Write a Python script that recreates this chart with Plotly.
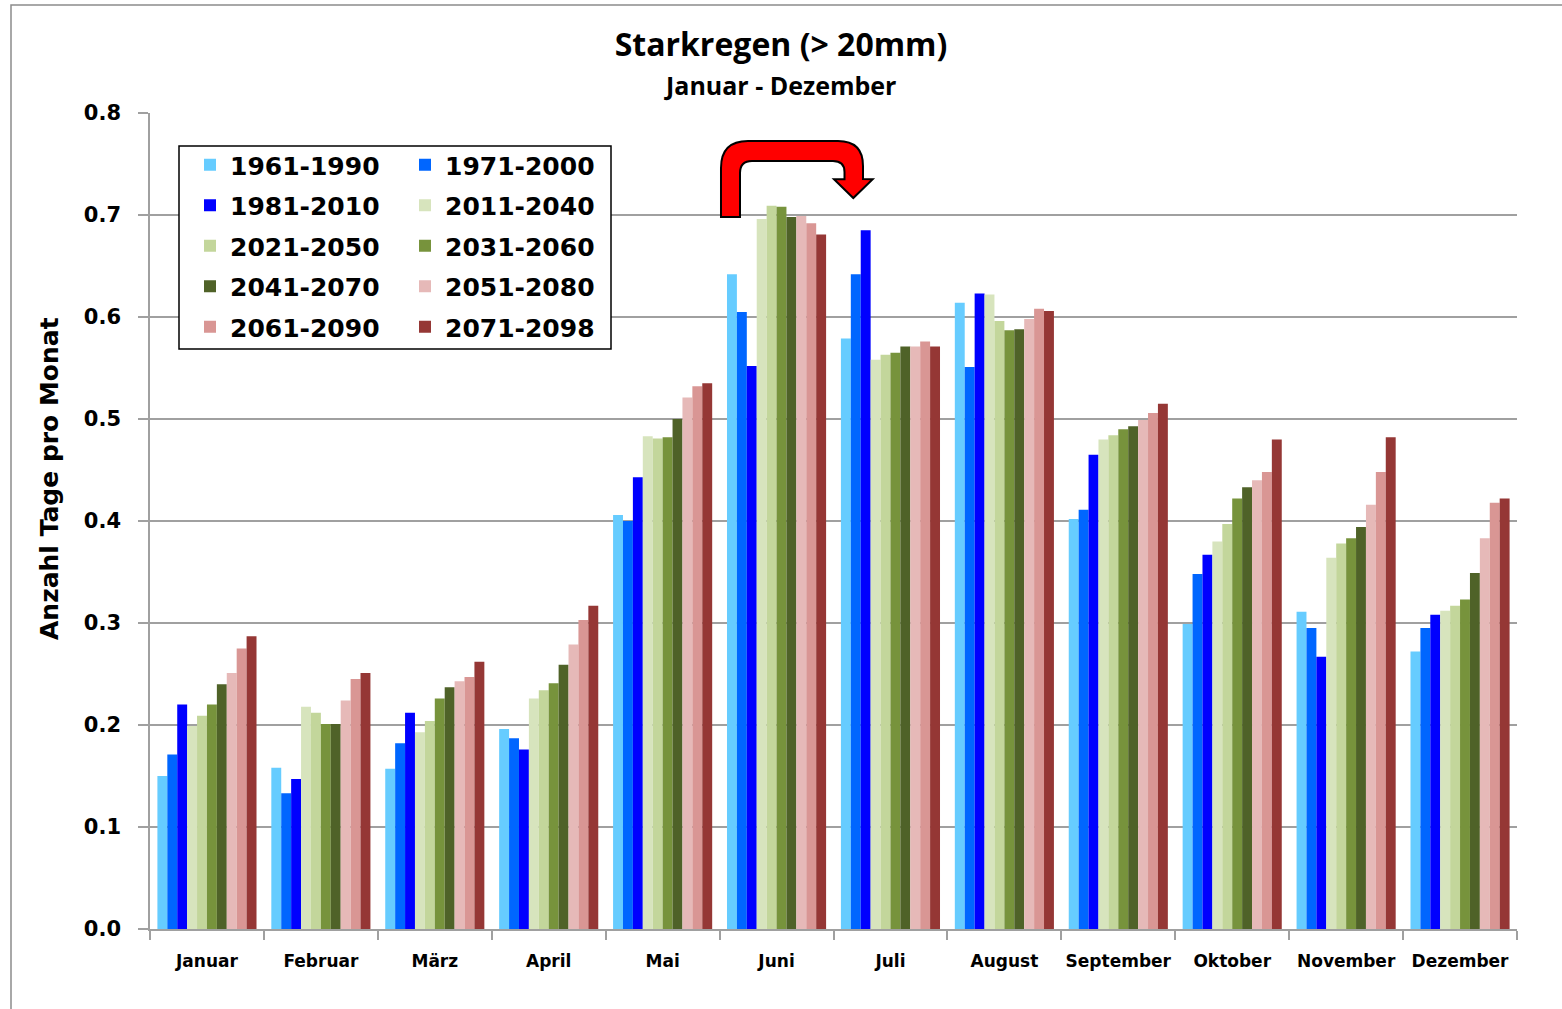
import plotly.graph_objects as go

months = ["Januar", "Februar", "März", "April", "Mai", "Juni", "Juli",
          "August", "September", "Oktober", "November", "Dezember"]

v1961_1990 = [0.150, 0.158, 0.157, 0.196, 0.406, 0.642, 0.579, 0.614, 0.402, 0.299, 0.311, 0.272]
v1971_2000 = [0.171, 0.133, 0.182, 0.187, 0.400, 0.605, 0.642, 0.551, 0.411, 0.348, 0.295, 0.295]
v1981_2010 = [0.220, 0.147, 0.212, 0.176, 0.443, 0.552, 0.685, 0.623, 0.465, 0.367, 0.267, 0.308]
v2011_2040 = [0.199, 0.218, 0.193, 0.226, 0.483, 0.696, 0.558, 0.622, 0.480, 0.380, 0.364, 0.312]
v2021_2050 = [0.209, 0.212, 0.204, 0.234, 0.481, 0.709, 0.563, 0.596, 0.484, 0.397, 0.378, 0.317]
v2031_2060 = [0.220, 0.201, 0.226, 0.241, 0.482, 0.708, 0.565, 0.587, 0.490, 0.422, 0.383, 0.323]
v2041_2070 = [0.240, 0.201, 0.237, 0.259, 0.500, 0.698, 0.571, 0.588, 0.493, 0.433, 0.394, 0.349]
v2051_2080 = [0.251, 0.224, 0.243, 0.279, 0.521, 0.699, 0.571, 0.598, 0.499, 0.440, 0.416, 0.383]
v2061_2090 = [0.275, 0.245, 0.247, 0.303, 0.532, 0.692, 0.576, 0.608, 0.506, 0.448, 0.448, 0.418]
v2071_2098 = [0.287, 0.251, 0.262, 0.317, 0.535, 0.681, 0.571, 0.606, 0.515, 0.480, 0.482, 0.422]

series_names = ["1961-1990", "1971-2000", "1981-2010", "2011-2040", "2021-2050",
                "2031-2060", "2041-2070", "2051-2080", "2061-2090", "2071-2098"]
series_values = [v1961_1990, v1971_2000, v1981_2010, v2011_2040, v2021_2050,
                 v2031_2060, v2041_2070, v2051_2080, v2061_2090, v2071_2098]
series_colors = ["#66CCFF", "#0066FF", "#0000FF", "#D7E4BD", "#C3D69B",
                 "#77933C", "#4F6228", "#E6B9B8", "#D99694", "#953735"]

W, H = 1562, 1009
L, R, T, B = 150, 1517, 113, 929
PW, PH = R - L, B - T

def px(x):
    return (x - L) / PW

def py(y):
    return 1 - (y - T) / PH

fig = go.Figure()
for i, (name, vals, col) in enumerate(zip(series_names, series_values, series_colors)):
    fig.add_trace(go.Bar(
        x=months, y=vals, name=name,
        marker=dict(color=col, line=dict(width=0)),
        legend="legend" if i % 2 == 0 else "legend2",
        legendgroup=name,
    ))

legend_font = dict(family="DejaVu Sans", size=25, color="black", weight="bold")

# arrow decoration path (pixel coords -> paper)
arrow_cmds = [
    ("M", [(721, 217)]), ("L", [(721, 168)]), ("Q", [(721, 141), (748, 141)]),
    ("L", [(838, 141)]), ("Q", [(863, 141), (863, 166)]), ("L", [(863, 179)]),
    ("L", [(872.7, 179.3)]), ("L", [(853.3, 198)]), ("L", [(834, 179.3)]),
    ("L", [(844.5, 179.3)]), ("L", [(844.5, 172)]), ("Q", [(844.5, 161), (833, 161)]),
    ("L", [(752, 161)]), ("Q", [(740, 161), (740, 173)]), ("L", [(740, 217)]),
]
path = ""
for c, pts in arrow_cmds:
    path += c + " ".join(f"{px(a):.5f},{py(b):.5f}" for a, b in pts) + " "
path += "Z"

fig.update_layout(
    width=W, height=H,
    margin=dict(l=L, r=W - R, t=T, b=H - B, autoexpand=False),
    paper_bgcolor="white", plot_bgcolor="white",
    barmode="group", bargap=0.13, bargroupgap=0,
    title=dict(text="Starkregen (> 20mm)", x=0.5, xref="container", xanchor="center",
               y=1 - 45 / H, yref="container", yanchor="middle",
               font=dict(family="Open Sans", size=32, color="black", weight="bold")),
    annotations=[
        dict(text="Januar - Dezember", xref="paper", yref="paper",
             x=px(780), y=py(85), xanchor="center", yanchor="middle",
             showarrow=False,
             font=dict(family="Open Sans", size=25, color="black", weight="bold")),
        dict(text="Anzahl Tage pro Monat", xref="paper", yref="paper",
             x=px(50), y=py(479), xanchor="center", yanchor="middle",
             textangle=-90, showarrow=False,
             font=dict(family="DejaVu Sans", size=25, color="black", weight="bold")),
    ],
    legend=dict(x=px(190), y=py(142), xanchor="left", yanchor="top",
                bgcolor="rgba(0,0,0,0)", borderwidth=0, font=legend_font,
                tracegroupgap=5, traceorder="grouped"),
    legend2=dict(x=px(405), y=py(142), xanchor="left", yanchor="top",
                 bgcolor="rgba(0,0,0,0)", borderwidth=0, font=legend_font,
                 tracegroupgap=5, traceorder="grouped"),
    xaxis=dict(type="category", showgrid=False, showline=True, linecolor="#A0A0A0",
               linewidth=1.5, ticks="outside", tickson="boundaries", ticklen=9,
               tickcolor="#A0A0A0", tickwidth=1.5, tickangle=0, automargin=False,
               tickfont=dict(family="DejaVu Sans", size=17, color="black", weight="bold"),
               ticklabelstandoff=16),
    yaxis=dict(range=[0, 0.8], dtick=0.1, tickformat=".1f", showgrid=True,
               gridcolor="#A0A0A0", gridwidth=1.5, showline=True, linecolor="#A0A0A0",
               linewidth=1.5, ticks="outside", ticklen=10, tickcolor="#A0A0A0",
               tickwidth=1.5, zeroline=False, ticklabelstandoff=13, automargin=False,
               tickfont=dict(family="DejaVu Sans", size=21, color="black", weight="bold")),
    shapes=[
        dict(type="rect", xref="paper", yref="paper",
             x0=px(11), y0=py(1020), x1=px(1575), y1=py(5),
             line=dict(color="#8C8C8C", width=1.5), fillcolor="rgba(0,0,0,0)", layer="below"),
        dict(type="rect", xref="paper", yref="paper",
             x0=px(179), y0=py(349), x1=px(611), y1=py(146),
             line=dict(color="black", width=1.5), fillcolor="white", layer="above"),
        dict(type="path", xref="paper", yref="paper", path=path,
             line=dict(color="black", width=2), fillcolor="#FF0000", layer="above"),
    ],
)

fig.write_html("out.html", config={"displayModeBar": False},
               post_script="document.body.style.margin='0';document.body.style.overflow='hidden';")
